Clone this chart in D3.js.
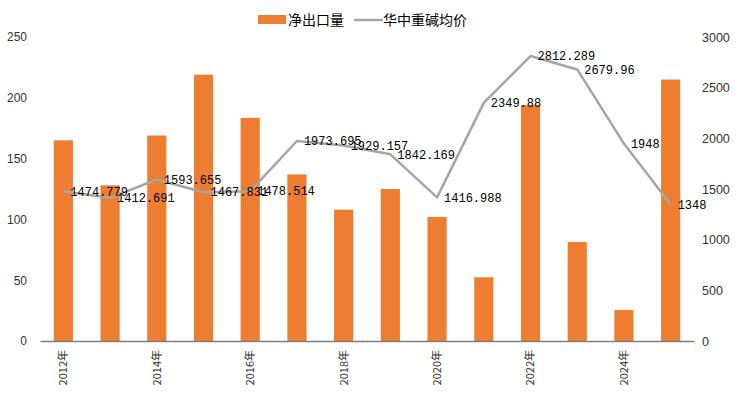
<!DOCTYPE html>
<html>
<head>
<meta charset="utf-8">
<script src="https://cdn.jsdelivr.net/npm/d3@7"></script>
<style>
  body { margin: 0; background: #fff; }
  svg { display: block; }
</style>
</head>
<body>
<div id="chart"></div>
<script>
// data
const years = ['2012年','2013年','2014年','2015年','2016年','2017年','2018年',
               '2019年','2020年','2021年','2022年','2023年','2024年','2025年'];
const tickYears = ['2012年','2014年','2016年','2018年','2020年','2022年','2024年'];
const netExport = [165, 128, 169, 219, 183.5, 137, 108, 125, 102, 52.4, 194, 81.4, 25.5, 215];
const price = [1474.779, 1412.691, 1593.655, 1467.831, 1478.514, 1973.695, 1929.157,
               1842.169, 1416.988, 2349.88, 2812.289, 2679.96, 1948, 1348];
const leftTicks = [0, 50, 100, 150, 200, 250];
const rightTicks = [0, 500, 1000, 1500, 2000, 2500, 3000];

const width = 738, height = 396;
const padL = 40, padR = 694, padT = 37, padB = 341;

const svg = d3.select('#chart').append('svg')
  .attr('width', width)
  .attr('height', height);

const x = d3.scaleBand()
  .domain(years)
  .range([padL, padR])
  .paddingInner(0.59)
  .paddingOuter(0.295);

const yL = d3.scaleLinear().domain([0, 250]).range([padB, padT]);
const yR = d3.scaleLinear().domain([0, 3000]).range([padB, padT]);

// left axis
const gl = svg.append('g')
  .attr('transform', `translate(${padL},0)`)
  .call(d3.axisLeft(yL).tickValues(leftTicks).tickSize(0).tickPadding(13));
gl.select('.domain').remove();
gl.selectAll('text')
  .attr('font-family', 'Liberation Sans, Arial, sans-serif')
  .attr('font-size', 12)
  .attr('fill', '#333');

// right axis
const gr = svg.append('g')
  .attr('transform', `translate(${padR},0)`)
  .call(d3.axisRight(yR).tickValues(rightTicks).tickFormat(d3.format('d'))
    .tickSize(0).tickPadding(8));
gr.select('.domain').remove();
gr.selectAll('text')
  .attr('font-family', 'Liberation Sans, Arial, sans-serif')
  .attr('font-size', 12.5)
  .attr('fill', '#333');

// bars
svg.append('g').selectAll('rect')
  .data(netExport)
  .enter()
  .append('rect')
  .attr('x', (d, i) => x(years[i]))
  .attr('y', d => yL(d))
  .attr('width', x.bandwidth())
  .attr('height', d => padB - yL(d))
  .attr('fill', '#ED7D31');

// bottom axis
const gb = svg.append('g')
  .attr('transform', `translate(0,${padB})`)
  .call(d3.axisBottom(x).tickSize(0).tickSizeOuter(0)
    .tickFormat(d => tickYears.includes(d) ? d : ''));
gb.select('.domain')
  .attr('stroke', '#7f7f7f')
  .attr('stroke-width', 1.5);
gb.selectAll('text')
  .attr('transform', 'rotate(-90)')
  .attr('text-anchor', 'end')
  .attr('x', -9)
  .attr('y', 0)
  .attr('dy', '0.35em')
  .attr('font-family', 'Noto Sans CJK SC, sans-serif')
  .attr('font-size', 11)
  .attr('fill', '#333');

// line
const cx = (d, i) => x(years[i]) + x.bandwidth() / 2;
const line = d3.line()
  .x(cx)
  .y(d => yR(d));

svg.append('path')
  .datum(price)
  .attr('d', line)
  .attr('fill', 'none')
  .attr('stroke', '#A5A5A5')
  .attr('stroke-width', 2.5)
  .attr('stroke-linejoin', 'round');

svg.append('g').selectAll('text')
  .data(price)
  .enter()
  .append('text')
  .attr('x', (d, i) => cx(d, i) + 7)
  .attr('y', d => yR(d))
  .attr('dy', '0.35em')
  .text(d => d)
  .attr('font-family', 'Liberation Mono, DejaVu Sans Mono, monospace')
  .attr('font-size', 12)
  .attr('fill', '#000');

// legend
const lg = svg.append('g');
lg.append('rect')
  .attr('x', 258).attr('y', 15)
  .attr('width', 28).attr('height', 9)
  .attr('fill', '#ED7D31');
lg.append('text')
  .attr('x', 288).attr('y', 20)
  .attr('dy', '0.35em')
  .text('净出口量')
  .attr('font-family', 'Noto Sans CJK SC, sans-serif')
  .attr('font-size', 14)
  .attr('fill', '#000');
lg.append('line')
  .attr('x1', 354).attr('x2', 383)
  .attr('y1', 20).attr('y2', 20)
  .attr('stroke', '#A5A5A5')
  .attr('stroke-width', 2.5);
lg.append('text')
  .attr('x', 383).attr('y', 20)
  .attr('dy', '0.35em')
  .text('华中重碱均价')
  .attr('font-family', 'Noto Sans CJK SC, sans-serif')
  .attr('font-size', 14)
  .attr('fill', '#000');
</script>
</body>
</html>
